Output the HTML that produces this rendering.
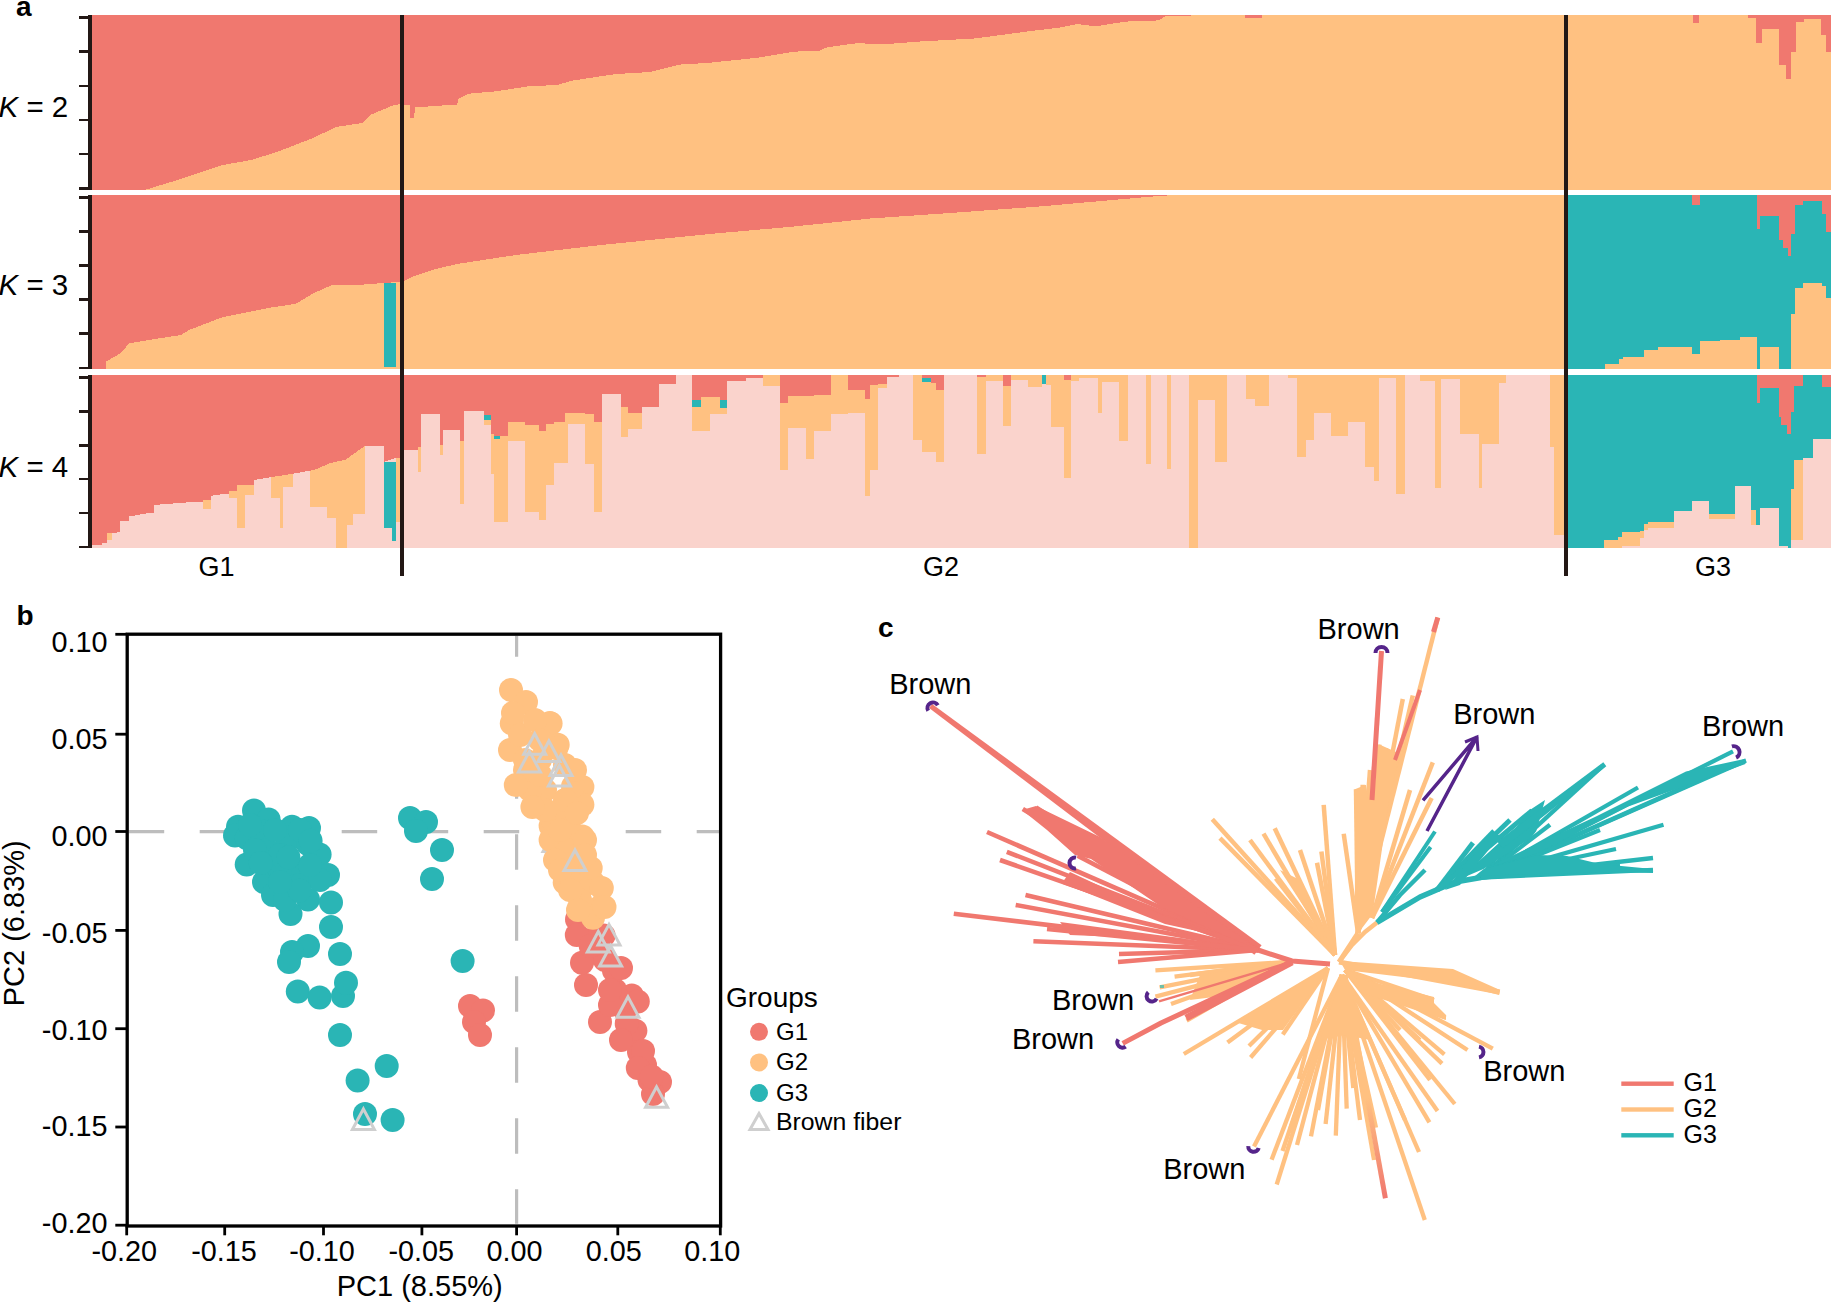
<!DOCTYPE html>
<html><head><meta charset="utf-8"><style>
html,body{margin:0;padding:0;background:#fff;width:1831px;height:1302px;overflow:hidden;}
svg{display:block;}
</style></head><body>
<svg width="1831" height="1302" viewBox="0 0 1831 1302">
<rect width="1831" height="1302" fill="#fff"/>
<g shape-rendering="crispEdges">
<rect x="90.0" y="15.3" width="1741.0" height="174.3" fill="#FFC181"/>
<polygon points="90.0,15.3 90.0,189.6 146.0,189.6 171.0,182.0 188.0,176.6 223.0,165.0 251.0,160.0 277.0,152.0 314.0,137.6 336.0,127.0 362.0,123.0 370.0,115.0 394.0,105.0 402.0,104.0 404.0,105.0 410.0,105.0 410.0,118.0 414.0,118.0 415.0,107.4 457.0,104.5 458.5,99.0 469.0,93.7 496.0,91.3 532.0,85.8 556.0,85.3 573.0,80.5 616.0,74.0 650.0,72.0 681.0,64.4 707.0,63.0 758.0,57.7 794.0,51.7 820.0,50.5 827.0,47.3 856.0,43.3 887.0,44.0 923.0,41.3 974.0,38.5 1003.0,34.8 1029.0,31.2 1060.0,27.6 1077.0,24.0 1096.0,26.4 1125.0,21.6 1159.0,20.4 1166.0,15.6 1245.0,15.3 1245.0,15.3" fill="#F0786F"/>
<rect x="1245.0" y="15.3" width="17.0" height="2.7" fill="#F0786F"/>
<rect x="1693.0" y="15.3" width="6.0" height="7.7" fill="#F0786F"/>
<rect x="1748.0" y="15.3" width="8.0" height="2.7" fill="#F0786F"/>
<rect x="1756.0" y="15.3" width="5.6" height="27.7" fill="#F0786F"/>
<rect x="1761.6" y="15.3" width="17.4" height="13.3" fill="#F0786F"/>
<rect x="1779.0" y="15.3" width="7.0" height="49.7" fill="#F0786F"/>
<rect x="1786.0" y="15.3" width="5.0" height="63.7" fill="#F0786F"/>
<rect x="1791.0" y="15.3" width="5.0" height="36.7" fill="#F0786F"/>
<rect x="1796.0" y="15.3" width="8.0" height="6.7" fill="#F0786F"/>
<rect x="1804.0" y="15.3" width="17.0" height="3.7" fill="#F0786F"/>
<rect x="1821.0" y="15.3" width="5.0" height="19.7" fill="#F0786F"/>
<rect x="1826.0" y="15.3" width="5.0" height="36.7" fill="#F0786F"/>
<rect x="90.0" y="195.1" width="1473.6" height="174.0" fill="#FFC181"/>
<rect x="1567.6" y="195.1" width="263.4" height="174.0" fill="#2AB5B5"/>
<polygon points="90.0,195.1 90.0,369.1 106.4,369.1 106.4,361.4 121.0,353.0 129.0,343.4 150.0,339.8 181.0,335.0 189.0,330.0 223.0,317.0 272.0,307.4 296.0,303.8 314.0,293.0 332.0,285.0 363.6,284.5 384.0,283.0 397.0,282.0 402.0,282.0 404.0,281.0 414.0,276.0 436.0,269.0 457.0,264.0 496.0,258.0 520.0,254.5 601.0,245.0 709.5,234.0 789.0,227.0 870.5,218.5 950.0,213.0 1041.0,206.4 1108.0,200.4 1163.5,195.6 1180.0,195.1 1180.0,195.1" fill="#F0786F"/>
<rect x="384.0" y="283.0" width="12.0" height="84.0" fill="#2AB5B5"/>
<rect x="1605.0" y="363.6" width="14.0" height="5.5" fill="#FFC181"/>
<rect x="1619.0" y="358.8" width="4.0" height="10.3" fill="#FFC181"/>
<rect x="1623.0" y="356.7" width="21.0" height="12.4" fill="#FFC181"/>
<rect x="1644.0" y="350.0" width="14.0" height="19.1" fill="#FFC181"/>
<rect x="1658.0" y="346.6" width="34.0" height="22.5" fill="#FFC181"/>
<rect x="1692.0" y="354.0" width="8.0" height="15.1" fill="#FFC181"/>
<rect x="1700.0" y="341.3" width="20.0" height="27.8" fill="#FFC181"/>
<rect x="1720.0" y="339.5" width="19.5" height="29.6" fill="#FFC181"/>
<rect x="1739.5" y="337.0" width="17.5" height="32.1" fill="#FFC181"/>
<rect x="1760.0" y="347.0" width="19.0" height="22.1" fill="#FFC181"/>
<rect x="1791.0" y="313.5" width="4.0" height="55.6" fill="#FFC181"/>
<rect x="1795.0" y="288.0" width="8.0" height="81.1" fill="#FFC181"/>
<rect x="1803.0" y="283.3" width="19.0" height="85.8" fill="#FFC181"/>
<rect x="1822.0" y="285.7" width="4.0" height="83.4" fill="#FFC181"/>
<rect x="1826.0" y="297.6" width="5.0" height="71.5" fill="#FFC181"/>
<rect x="1692.0" y="195.1" width="8.0" height="10.3" fill="#F0786F"/>
<rect x="1757.0" y="195.1" width="3.0" height="33.4" fill="#F0786F"/>
<rect x="1760.0" y="195.1" width="19.0" height="20.9" fill="#F0786F"/>
<rect x="1779.0" y="195.1" width="4.0" height="44.5" fill="#F0786F"/>
<rect x="1783.0" y="195.1" width="5.0" height="52.9" fill="#F0786F"/>
<rect x="1788.0" y="195.1" width="3.0" height="60.9" fill="#F0786F"/>
<rect x="1791.0" y="195.1" width="4.0" height="38.9" fill="#F0786F"/>
<rect x="1795.0" y="195.1" width="8.0" height="10.3" fill="#F0786F"/>
<rect x="1803.0" y="195.1" width="19.0" height="5.6" fill="#F0786F"/>
<rect x="1822.0" y="195.1" width="4.0" height="18.9" fill="#F0786F"/>
<rect x="1826.0" y="195.1" width="5.0" height="36.5" fill="#F0786F"/>
<rect x="90.0" y="375.2" width="1741.0" height="173.0" fill="#FAD3CC"/>
<rect x="107.0" y="375.2" width="5.0" height="164.8" fill="#FFC181"/>
<rect x="203.0" y="375.2" width="7.9" height="133.3" fill="#FFC181"/>
<rect x="228.6" y="375.2" width="8.4" height="122.8" fill="#FFC181"/>
<rect x="237.0" y="375.2" width="8.0" height="152.3" fill="#FFC181"/>
<rect x="245.0" y="375.2" width="8.6" height="119.8" fill="#FFC181"/>
<rect x="271.0" y="375.2" width="8.6" height="122.8" fill="#FFC181"/>
<rect x="279.6" y="375.2" width="3.4" height="152.8" fill="#FFC181"/>
<rect x="283.0" y="375.2" width="9.6" height="111.8" fill="#FFC181"/>
<rect x="310.0" y="375.2" width="17.0" height="131.8" fill="#FFC181"/>
<rect x="327.0" y="375.2" width="9.0" height="142.8" fill="#FFC181"/>
<rect x="336.0" y="375.2" width="11.0" height="173.0" fill="#FFC181"/>
<rect x="347.0" y="375.2" width="6.0" height="149.8" fill="#FFC181"/>
<rect x="353.0" y="375.2" width="12.0" height="138.4" fill="#FFC181"/>
<rect x="395.7" y="375.2" width="6.3" height="146.8" fill="#FFC181"/>
<rect x="383.6" y="461.6" width="8.4" height="65.9" fill="#2AB5B5"/>
<rect x="392.0" y="461.6" width="3.7" height="78.9" fill="#2AB5B5"/>
<polygon points="90.0,375.2 90.0,548.2 92.4,548.2 92.4,544.6 101.7,544.6 101.7,542.6 107.0,542.6 107.0,533.0 120.4,532.3 120.4,521.0 129.0,521.0 129.0,516.5 149.0,513.0 154.3,513.0 154.3,505.0 165.6,504.0 189.2,502.3 203.0,502.3 203.0,499.8 210.9,499.8 210.9,495.9 223.6,494.0 228.6,494.0 228.6,491.0 237.0,491.0 237.0,485.0 253.6,485.0 253.6,480.0 293.6,473.6 314.0,470.0 330.7,463.0 345.6,459.7 365.0,445.8 383.6,445.8 384.5,461.6 395.7,458.0 402.0,458.0 402.0,375.2" fill="#F0786F"/>
<rect x="404.0" y="375.2" width="14.0" height="75.0" fill="#FFC181"/>
<rect x="404.0" y="375.2" width="14.0" height="75.0" fill="#F0786F"/>
<rect x="418.0" y="375.2" width="3.0" height="97.1" fill="#FFC181"/>
<rect x="418.0" y="375.2" width="3.0" height="71.8" fill="#F0786F"/>
<rect x="421.0" y="375.2" width="19.0" height="38.8" fill="#FFC181"/>
<rect x="421.0" y="375.2" width="19.0" height="38.8" fill="#F0786F"/>
<rect x="440.0" y="375.2" width="3.0" height="79.8" fill="#FFC181"/>
<rect x="440.0" y="375.2" width="3.0" height="69.8" fill="#F0786F"/>
<rect x="443.0" y="375.2" width="17.0" height="54.8" fill="#FFC181"/>
<rect x="443.0" y="375.2" width="17.0" height="54.8" fill="#F0786F"/>
<rect x="460.0" y="375.2" width="4.0" height="128.8" fill="#FFC181"/>
<rect x="460.0" y="375.2" width="4.0" height="65.5" fill="#F0786F"/>
<rect x="464.0" y="375.2" width="19.5" height="35.8" fill="#FFC181"/>
<rect x="464.0" y="375.2" width="19.5" height="35.8" fill="#F0786F"/>
<rect x="483.5" y="375.2" width="7.5" height="49.8" fill="#FFC181"/>
<rect x="483.5" y="375.2" width="7.5" height="39.8" fill="#F0786F"/>
<rect x="491.0" y="375.2" width="3.0" height="98.8" fill="#FFC181"/>
<rect x="491.0" y="375.2" width="3.0" height="58.8" fill="#F0786F"/>
<rect x="494.0" y="375.2" width="14.0" height="146.8" fill="#FFC181"/>
<rect x="494.0" y="375.2" width="14.0" height="60.3" fill="#F0786F"/>
<rect x="508.0" y="375.2" width="17.0" height="65.8" fill="#FFC181"/>
<rect x="508.0" y="375.2" width="17.0" height="46.8" fill="#F0786F"/>
<rect x="525.0" y="375.2" width="14.0" height="136.4" fill="#FFC181"/>
<rect x="525.0" y="375.2" width="14.0" height="49.8" fill="#F0786F"/>
<rect x="539.0" y="375.2" width="7.0" height="144.8" fill="#FFC181"/>
<rect x="539.0" y="375.2" width="7.0" height="55.3" fill="#F0786F"/>
<rect x="546.0" y="375.2" width="8.0" height="109.4" fill="#FFC181"/>
<rect x="546.0" y="375.2" width="8.0" height="48.8" fill="#F0786F"/>
<rect x="554.0" y="375.2" width="11.0" height="87.8" fill="#FFC181"/>
<rect x="554.0" y="375.2" width="11.0" height="46.3" fill="#F0786F"/>
<rect x="565.0" y="375.2" width="3.0" height="87.8" fill="#FFC181"/>
<rect x="565.0" y="375.2" width="3.0" height="37.3" fill="#F0786F"/>
<rect x="568.0" y="375.2" width="17.0" height="48.8" fill="#FFC181"/>
<rect x="568.0" y="375.2" width="17.0" height="37.3" fill="#F0786F"/>
<rect x="585.0" y="375.2" width="9.0" height="88.8" fill="#FFC181"/>
<rect x="585.0" y="375.2" width="9.0" height="38.8" fill="#F0786F"/>
<rect x="594.0" y="375.2" width="7.5" height="136.4" fill="#FFC181"/>
<rect x="594.0" y="375.2" width="7.5" height="46.3" fill="#F0786F"/>
<rect x="601.5" y="375.2" width="19.5" height="18.8" fill="#FFC181"/>
<rect x="601.5" y="375.2" width="19.5" height="18.8" fill="#F0786F"/>
<rect x="621.0" y="375.2" width="7.0" height="61.8" fill="#FFC181"/>
<rect x="621.0" y="375.2" width="7.0" height="31.8" fill="#F0786F"/>
<rect x="628.0" y="375.2" width="13.6" height="53.8" fill="#FFC181"/>
<rect x="628.0" y="375.2" width="13.6" height="37.3" fill="#F0786F"/>
<rect x="641.6" y="375.2" width="17.4" height="31.8" fill="#FFC181"/>
<rect x="641.6" y="375.2" width="17.4" height="31.8" fill="#F0786F"/>
<rect x="659.0" y="375.2" width="17.0" height="8.8" fill="#FFC181"/>
<rect x="659.0" y="375.2" width="17.0" height="8.8" fill="#F0786F"/>
<rect x="692.4" y="375.2" width="8.2" height="55.8" fill="#FFC181"/>
<rect x="692.4" y="375.2" width="8.2" height="24.8" fill="#F0786F"/>
<rect x="700.6" y="375.2" width="9.1" height="55.8" fill="#FFC181"/>
<rect x="700.6" y="375.2" width="9.1" height="21.8" fill="#F0786F"/>
<rect x="709.7" y="375.2" width="9.8" height="38.8" fill="#FFC181"/>
<rect x="709.7" y="375.2" width="9.8" height="21.8" fill="#F0786F"/>
<rect x="719.5" y="375.2" width="7.5" height="38.8" fill="#FFC181"/>
<rect x="719.5" y="375.2" width="7.5" height="24.8" fill="#F0786F"/>
<rect x="727.0" y="375.2" width="18.7" height="5.4" fill="#FFC181"/>
<rect x="727.0" y="375.2" width="18.7" height="5.4" fill="#F0786F"/>
<rect x="745.7" y="375.2" width="17.3" height="2.8" fill="#FFC181"/>
<rect x="745.7" y="375.2" width="17.3" height="2.8" fill="#F0786F"/>
<rect x="763.0" y="375.2" width="17.0" height="10.8" fill="#FFC181"/>
<rect x="780.0" y="375.2" width="8.0" height="94.8" fill="#FFC181"/>
<rect x="780.0" y="375.2" width="8.0" height="27.5" fill="#F0786F"/>
<rect x="788.0" y="375.2" width="17.5" height="52.8" fill="#FFC181"/>
<rect x="788.0" y="375.2" width="17.5" height="20.8" fill="#F0786F"/>
<rect x="805.5" y="375.2" width="8.2" height="83.8" fill="#FFC181"/>
<rect x="805.5" y="375.2" width="8.2" height="20.8" fill="#F0786F"/>
<rect x="813.7" y="375.2" width="17.3" height="55.3" fill="#FFC181"/>
<rect x="813.7" y="375.2" width="17.3" height="19.3" fill="#F0786F"/>
<rect x="831.0" y="375.2" width="17.0" height="38.8" fill="#FFC181"/>
<rect x="848.0" y="375.2" width="17.0" height="37.3" fill="#FFC181"/>
<rect x="848.0" y="375.2" width="17.0" height="14.8" fill="#F0786F"/>
<rect x="865.0" y="375.2" width="5.0" height="120.8" fill="#FFC181"/>
<rect x="865.0" y="375.2" width="5.0" height="23.8" fill="#F0786F"/>
<rect x="870.0" y="375.2" width="8.0" height="94.8" fill="#FFC181"/>
<rect x="870.0" y="375.2" width="8.0" height="9.5" fill="#F0786F"/>
<rect x="878.0" y="375.2" width="8.6" height="12.8" fill="#FFC181"/>
<rect x="878.0" y="375.2" width="8.6" height="8.8" fill="#F0786F"/>
<rect x="886.6" y="375.2" width="12.4" height="1.3" fill="#FFC181"/>
<rect x="886.6" y="375.2" width="12.4" height="1.3" fill="#F0786F"/>
<rect x="913.0" y="375.2" width="9.0" height="64.4" fill="#FFC181"/>
<rect x="922.0" y="375.2" width="9.0" height="76.8" fill="#FFC181"/>
<rect x="922.0" y="375.2" width="9.0" height="2.8" fill="#F0786F"/>
<rect x="931.0" y="375.2" width="5.0" height="76.8" fill="#FFC181"/>
<rect x="931.0" y="375.2" width="5.0" height="7.8" fill="#F0786F"/>
<rect x="936.0" y="375.2" width="8.0" height="86.5" fill="#FFC181"/>
<rect x="936.0" y="375.2" width="8.0" height="14.8" fill="#F0786F"/>
<rect x="976.7" y="375.2" width="9.1" height="78.3" fill="#FFC181"/>
<rect x="976.7" y="375.2" width="9.1" height="1.3" fill="#F0786F"/>
<rect x="985.8" y="375.2" width="17.2" height="6.2" fill="#FFC181"/>
<rect x="1003.0" y="375.2" width="8.0" height="50.4" fill="#FFC181"/>
<rect x="1003.0" y="375.2" width="8.0" height="10.3" fill="#F0786F"/>
<rect x="1011.0" y="375.2" width="17.4" height="4.8" fill="#FFC181"/>
<rect x="1028.4" y="375.2" width="13.1" height="11.8" fill="#FFC181"/>
<rect x="1041.5" y="375.2" width="4.1" height="8.8" fill="#FFC181"/>
<rect x="1045.6" y="375.2" width="5.4" height="9.5" fill="#FFC181"/>
<rect x="1051.0" y="375.2" width="13.0" height="51.8" fill="#FFC181"/>
<rect x="1064.0" y="375.2" width="7.0" height="102.8" fill="#FFC181"/>
<rect x="1064.0" y="375.2" width="7.0" height="4.8" fill="#F0786F"/>
<rect x="1071.0" y="375.2" width="8.0" height="6.2" fill="#FFC181"/>
<rect x="1079.0" y="375.2" width="19.0" height="2.8" fill="#FFC181"/>
<rect x="1098.0" y="375.2" width="4.0" height="37.3" fill="#FFC181"/>
<rect x="1102.0" y="375.2" width="17.0" height="6.8" fill="#FFC181"/>
<rect x="1119.0" y="375.2" width="8.5" height="65.8" fill="#FFC181"/>
<rect x="1146.0" y="375.2" width="4.5" height="88.8" fill="#FFC181"/>
<rect x="1167.0" y="375.2" width="4.0" height="93.8" fill="#FFC181"/>
<rect x="1189.0" y="375.2" width="9.0" height="173.0" fill="#FFC181"/>
<rect x="1198.0" y="375.2" width="17.0" height="24.8" fill="#FFC181"/>
<rect x="1215.0" y="375.2" width="11.7" height="86.5" fill="#FFC181"/>
<rect x="1245.5" y="375.2" width="9.0" height="23.4" fill="#FFC181"/>
<rect x="1254.5" y="375.2" width="14.5" height="30.8" fill="#FFC181"/>
<rect x="1288.0" y="375.2" width="9.0" height="2.8" fill="#FFC181"/>
<rect x="1297.0" y="375.2" width="9.0" height="81.6" fill="#FFC181"/>
<rect x="1306.0" y="375.2" width="8.0" height="65.2" fill="#FFC181"/>
<rect x="1314.0" y="375.2" width="17.0" height="37.8" fill="#FFC181"/>
<rect x="1331.0" y="375.2" width="17.0" height="60.8" fill="#FFC181"/>
<rect x="1348.0" y="375.2" width="17.0" height="46.8" fill="#FFC181"/>
<rect x="1365.0" y="375.2" width="9.0" height="91.8" fill="#FFC181"/>
<rect x="1374.0" y="375.2" width="5.0" height="105.8" fill="#FFC181"/>
<rect x="1379.0" y="375.2" width="16.5" height="2.8" fill="#FFC181"/>
<rect x="1395.5" y="375.2" width="9.0" height="119.2" fill="#FFC181"/>
<rect x="1420.0" y="375.2" width="15.0" height="6.2" fill="#FFC181"/>
<rect x="1435.0" y="375.2" width="6.0" height="112.8" fill="#FFC181"/>
<rect x="1441.0" y="375.2" width="19.0" height="3.8" fill="#FFC181"/>
<rect x="1460.0" y="375.2" width="19.0" height="58.8" fill="#FFC181"/>
<rect x="1479.0" y="375.2" width="3.0" height="112.8" fill="#FFC181"/>
<rect x="1482.0" y="375.2" width="17.0" height="68.4" fill="#FFC181"/>
<rect x="1499.0" y="375.2" width="7.0" height="7.8" fill="#FFC181"/>
<rect x="1549.5" y="375.2" width="4.1" height="71.8" fill="#FFC181"/>
<rect x="1553.6" y="375.2" width="10.0" height="159.4" fill="#FFC181"/>
<rect x="483.5" y="415.0" width="7.5" height="5.0" fill="#2AB5B5"/>
<rect x="494.0" y="435.5" width="6.0" height="3.5" fill="#2AB5B5"/>
<rect x="692.4" y="400.0" width="8.2" height="7.0" fill="#2AB5B5"/>
<rect x="719.5" y="400.0" width="7.5" height="8.0" fill="#2AB5B5"/>
<rect x="922.0" y="378.0" width="9.0" height="4.0" fill="#2AB5B5"/>
<rect x="1041.5" y="375.2" width="4.1" height="8.8" fill="#2AB5B5"/>
<rect x="1567.6" y="375.2" width="263.4" height="173.0" fill="#2AB5B5"/>
<rect x="1604.0" y="540.4" width="14.0" height="7.8" fill="#FFC181"/>
<rect x="1618.0" y="537.0" width="3.5" height="11.2" fill="#FFC181"/>
<rect x="1621.5" y="531.8" width="18.5" height="16.4" fill="#FFC181"/>
<rect x="1621.5" y="546.0" width="18.5" height="2.2" fill="#FAD3CC"/>
<rect x="1640.0" y="531.0" width="4.0" height="17.2" fill="#FFC181"/>
<rect x="1640.0" y="538.0" width="4.0" height="10.2" fill="#FAD3CC"/>
<rect x="1644.0" y="524.0" width="4.0" height="24.2" fill="#FFC181"/>
<rect x="1644.0" y="530.0" width="4.0" height="18.2" fill="#FAD3CC"/>
<rect x="1648.0" y="522.0" width="26.0" height="26.2" fill="#FFC181"/>
<rect x="1648.0" y="527.5" width="26.0" height="20.7" fill="#FAD3CC"/>
<rect x="1674.0" y="511.0" width="18.0" height="37.2" fill="#FFC181"/>
<rect x="1674.0" y="511.0" width="18.0" height="37.2" fill="#FAD3CC"/>
<rect x="1692.0" y="500.7" width="17.0" height="47.5" fill="#FFC181"/>
<rect x="1692.0" y="500.7" width="17.0" height="47.5" fill="#FAD3CC"/>
<rect x="1709.0" y="514.0" width="26.0" height="34.2" fill="#FFC181"/>
<rect x="1709.0" y="519.0" width="26.0" height="29.2" fill="#FAD3CC"/>
<rect x="1735.0" y="486.0" width="16.0" height="62.2" fill="#FFC181"/>
<rect x="1735.0" y="486.0" width="16.0" height="62.2" fill="#FAD3CC"/>
<rect x="1751.0" y="510.0" width="5.0" height="38.2" fill="#FFC181"/>
<rect x="1751.0" y="525.0" width="5.0" height="23.2" fill="#FAD3CC"/>
<rect x="1756.0" y="525.0" width="4.0" height="23.2" fill="#FFC181"/>
<rect x="1756.0" y="525.0" width="4.0" height="23.2" fill="#FAD3CC"/>
<rect x="1760.0" y="508.4" width="19.0" height="39.8" fill="#FFC181"/>
<rect x="1760.0" y="508.4" width="19.0" height="39.8" fill="#FAD3CC"/>
<rect x="1779.0" y="546.0" width="8.5" height="2.2" fill="#FFC181"/>
<rect x="1779.0" y="546.0" width="8.5" height="2.2" fill="#FAD3CC"/>
<rect x="1791.0" y="488.6" width="3.0" height="59.6" fill="#FFC181"/>
<rect x="1791.0" y="540.0" width="3.0" height="8.2" fill="#FAD3CC"/>
<rect x="1794.0" y="460.0" width="9.0" height="88.2" fill="#FFC181"/>
<rect x="1794.0" y="540.0" width="9.0" height="8.2" fill="#FAD3CC"/>
<rect x="1803.0" y="457.5" width="9.5" height="90.7" fill="#FFC181"/>
<rect x="1803.0" y="457.5" width="9.5" height="90.7" fill="#FAD3CC"/>
<rect x="1812.5" y="439.3" width="18.5" height="108.9" fill="#FFC181"/>
<rect x="1812.5" y="439.3" width="18.5" height="108.9" fill="#FAD3CC"/>
<rect x="1757.0" y="375.2" width="3.0" height="27.8" fill="#F0786F"/>
<rect x="1760.0" y="375.2" width="19.0" height="13.1" fill="#F0786F"/>
<rect x="1779.0" y="375.2" width="2.4" height="41.8" fill="#F0786F"/>
<rect x="1781.4" y="375.2" width="5.2" height="49.4" fill="#F0786F"/>
<rect x="1786.6" y="375.2" width="4.4" height="58.8" fill="#F0786F"/>
<rect x="1791.0" y="375.2" width="3.0" height="36.5" fill="#F0786F"/>
<rect x="1794.0" y="375.2" width="9.0" height="10.5" fill="#F0786F"/>
<rect x="1822.0" y="375.2" width="9.0" height="11.4" fill="#F0786F"/>
<rect x="88.2" y="15.3" width="3.7" height="174.3" fill="#231815"/>
<rect x="79.2" y="16.2" width="9.8" height="2.6" fill="#231815"/>
<rect x="79.2" y="50.4" width="9.8" height="2.6" fill="#231815"/>
<rect x="79.2" y="84.5" width="9.8" height="2.6" fill="#231815"/>
<rect x="79.2" y="118.7" width="9.8" height="2.6" fill="#231815"/>
<rect x="79.2" y="152.8" width="9.8" height="2.6" fill="#231815"/>
<rect x="79.2" y="187.0" width="9.8" height="2.6" fill="#231815"/>
<rect x="88.2" y="195.1" width="3.7" height="174.0" fill="#231815"/>
<rect x="79.2" y="196.0" width="9.8" height="2.6" fill="#231815"/>
<rect x="79.2" y="230.1" width="9.8" height="2.6" fill="#231815"/>
<rect x="79.2" y="264.2" width="9.8" height="2.6" fill="#231815"/>
<rect x="79.2" y="298.3" width="9.8" height="2.6" fill="#231815"/>
<rect x="79.2" y="332.4" width="9.8" height="2.6" fill="#231815"/>
<rect x="79.2" y="366.5" width="9.8" height="2.6" fill="#231815"/>
<rect x="88.2" y="375.2" width="3.7" height="173.0" fill="#231815"/>
<rect x="79.2" y="376.1" width="9.8" height="2.6" fill="#231815"/>
<rect x="79.2" y="410.0" width="9.8" height="2.6" fill="#231815"/>
<rect x="79.2" y="443.9" width="9.8" height="2.6" fill="#231815"/>
<rect x="79.2" y="477.8" width="9.8" height="2.6" fill="#231815"/>
<rect x="79.2" y="511.7" width="9.8" height="2.6" fill="#231815"/>
<rect x="79.2" y="545.6" width="9.8" height="2.6" fill="#231815"/>
<rect x="399.7" y="15.3" width="4.3" height="560.2" fill="#231815"/>
<rect x="1563.6" y="15.3" width="4.0" height="560.2" fill="#231815"/>
</g>

<text x="16" y="15.8" font-family="Liberation Sans, sans-serif" font-size="28" font-weight="bold">a</text>
<text x="16.5" y="625" font-family="Liberation Sans, sans-serif" font-size="28" font-weight="bold">b</text>
<text x="878" y="637" font-family="Liberation Sans, sans-serif" font-size="28" font-weight="bold">c</text>
<text x="-1.5" y="116.6" font-family="Liberation Sans, sans-serif" font-size="29.5"><tspan font-style="italic">K</tspan> = 2</text>
<text x="-1.5" y="295.2" font-family="Liberation Sans, sans-serif" font-size="29.5"><tspan font-style="italic">K</tspan> = 3</text>
<text x="-1.5" y="476.7" font-family="Liberation Sans, sans-serif" font-size="29.5"><tspan font-style="italic">K</tspan> = 4</text>
<text x="216.5" y="576.4" font-family="Liberation Sans, sans-serif" font-size="27" text-anchor="middle">G1</text>
<text x="941" y="576.4" font-family="Liberation Sans, sans-serif" font-size="27" text-anchor="middle">G2</text>
<text x="1713" y="576.4" font-family="Liberation Sans, sans-serif" font-size="27" text-anchor="middle">G3</text>

<line x1="128.7" y1="831.6" x2="719" y2="831.6" stroke="#BDBDBD" stroke-width="3.2" stroke-dasharray="35.5 35.5"/>
<line x1="516.6" y1="635.8" x2="516.6" y2="1223.8" stroke="#BDBDBD" stroke-width="3.2" stroke-dasharray="21 35.5 35.5 35.5 35.5 35.5 35.5 35.5 35.5 35.5 35.5 35.5 35.5 35.5 35.5 35.5 35.5"/>
<polygon points="554.0,831.0 543.0,851.5 565.0,851.5" fill="none" stroke="#CFCFCF" stroke-width="3" stroke-linejoin="miter"/>
<circle cx="254" cy="810.6" r="12" fill="#2AB5B5"/>
<circle cx="268.6" cy="819.4" r="12" fill="#2AB5B5"/>
<circle cx="238" cy="826.7" r="12" fill="#2AB5B5"/>
<circle cx="235" cy="835.4" r="12" fill="#2AB5B5"/>
<circle cx="246.7" cy="838" r="12" fill="#2AB5B5"/>
<circle cx="261" cy="831" r="12" fill="#2AB5B5"/>
<circle cx="292" cy="826.7" r="12" fill="#2AB5B5"/>
<circle cx="309" cy="828" r="12" fill="#2AB5B5"/>
<circle cx="287.5" cy="841" r="12" fill="#2AB5B5"/>
<circle cx="308" cy="844" r="12" fill="#2AB5B5"/>
<circle cx="319.6" cy="854.4" r="12" fill="#2AB5B5"/>
<circle cx="246.7" cy="864.6" r="12" fill="#2AB5B5"/>
<circle cx="267" cy="850" r="12" fill="#2AB5B5"/>
<circle cx="287.5" cy="864.6" r="12" fill="#2AB5B5"/>
<circle cx="328" cy="875" r="12" fill="#2AB5B5"/>
<circle cx="264" cy="882" r="12" fill="#2AB5B5"/>
<circle cx="273" cy="895" r="12" fill="#2AB5B5"/>
<circle cx="302" cy="876" r="12" fill="#2AB5B5"/>
<circle cx="308" cy="899.6" r="12" fill="#2AB5B5"/>
<circle cx="290.5" cy="914" r="12" fill="#2AB5B5"/>
<circle cx="331" cy="902.6" r="12" fill="#2AB5B5"/>
<circle cx="331" cy="927" r="12" fill="#2AB5B5"/>
<circle cx="308" cy="946" r="12" fill="#2AB5B5"/>
<circle cx="292" cy="952" r="12" fill="#2AB5B5"/>
<circle cx="289" cy="962" r="12" fill="#2AB5B5"/>
<circle cx="340" cy="954" r="12" fill="#2AB5B5"/>
<circle cx="297.8" cy="991.6" r="12" fill="#2AB5B5"/>
<circle cx="319.6" cy="997.4" r="12" fill="#2AB5B5"/>
<circle cx="343" cy="996" r="12" fill="#2AB5B5"/>
<circle cx="346" cy="982.8" r="12" fill="#2AB5B5"/>
<circle cx="340" cy="1035" r="12" fill="#2AB5B5"/>
<circle cx="386.7" cy="1066" r="12" fill="#2AB5B5"/>
<circle cx="357.6" cy="1080.6" r="12" fill="#2AB5B5"/>
<circle cx="365" cy="1114" r="12" fill="#2AB5B5"/>
<circle cx="392.6" cy="1120" r="12" fill="#2AB5B5"/>
<circle cx="255" cy="850" r="12" fill="#2AB5B5"/>
<circle cx="280" cy="870" r="12" fill="#2AB5B5"/>
<circle cx="300" cy="885" r="12" fill="#2AB5B5"/>
<circle cx="320" cy="880" r="12" fill="#2AB5B5"/>
<circle cx="275" cy="830" r="12" fill="#2AB5B5"/>
<circle cx="300" cy="830" r="12" fill="#2AB5B5"/>
<circle cx="250" cy="825" r="12" fill="#2AB5B5"/>
<circle cx="280" cy="855" r="12" fill="#2AB5B5"/>
<circle cx="310" cy="865" r="12" fill="#2AB5B5"/>
<circle cx="285" cy="900" r="12" fill="#2AB5B5"/>
<circle cx="288.4" cy="857.3" r="12" fill="#2AB5B5"/>
<circle cx="310.6" cy="840.7" r="12" fill="#2AB5B5"/>
<circle cx="260.7" cy="862.9" r="12" fill="#2AB5B5"/>
<circle cx="299.5" cy="890.6" r="12" fill="#2AB5B5"/>
<circle cx="280" cy="882" r="12" fill="#2AB5B5"/>
<circle cx="410" cy="818" r="12" fill="#2AB5B5"/>
<circle cx="426" cy="822" r="12" fill="#2AB5B5"/>
<circle cx="416" cy="831" r="12" fill="#2AB5B5"/>
<circle cx="442" cy="850" r="12" fill="#2AB5B5"/>
<circle cx="432" cy="879" r="12" fill="#2AB5B5"/>
<circle cx="462.6" cy="961" r="12" fill="#2AB5B5"/>
<circle cx="470" cy="1006" r="12" fill="#F0786F"/>
<circle cx="483" cy="1010.5" r="12" fill="#F0786F"/>
<circle cx="474" cy="1022" r="12" fill="#F0786F"/>
<circle cx="480" cy="1035" r="12" fill="#F0786F"/>
<circle cx="577" cy="919.5" r="12" fill="#F0786F"/>
<circle cx="603.6" cy="935.4" r="12" fill="#F0786F"/>
<circle cx="596.5" cy="953" r="12" fill="#F0786F"/>
<circle cx="586" cy="985" r="12" fill="#F0786F"/>
<circle cx="614" cy="970.7" r="12" fill="#F0786F"/>
<circle cx="631.8" cy="995.5" r="12" fill="#F0786F"/>
<circle cx="600" cy="1022" r="12" fill="#F0786F"/>
<circle cx="635.4" cy="1030.8" r="12" fill="#F0786F"/>
<circle cx="639" cy="1052" r="12" fill="#F0786F"/>
<circle cx="649.5" cy="1080" r="12" fill="#F0786F"/>
<circle cx="660" cy="1082" r="12" fill="#F0786F"/>
<circle cx="653" cy="1094" r="12" fill="#F0786F"/>
<circle cx="605" cy="960" r="12" fill="#F0786F"/>
<circle cx="615" cy="990" r="12" fill="#F0786F"/>
<circle cx="625" cy="1010" r="12" fill="#F0786F"/>
<circle cx="645" cy="1065" r="12" fill="#F0786F"/>
<circle cx="620" cy="1000" r="12" fill="#F0786F"/>
<circle cx="590" cy="940" r="12" fill="#F0786F"/>
<circle cx="610" cy="1005" r="12" fill="#F0786F"/>
<circle cx="582" cy="962.7" r="12" fill="#F0786F"/>
<circle cx="621" cy="968" r="12" fill="#F0786F"/>
<circle cx="610" cy="990" r="12" fill="#F0786F"/>
<circle cx="637.8" cy="1001.5" r="12" fill="#F0786F"/>
<circle cx="626.7" cy="1023.7" r="12" fill="#F0786F"/>
<circle cx="621" cy="1040" r="12" fill="#F0786F"/>
<circle cx="643" cy="1051" r="12" fill="#F0786F"/>
<circle cx="637.8" cy="1068" r="12" fill="#F0786F"/>
<circle cx="651.7" cy="1076.4" r="12" fill="#F0786F"/>
<circle cx="576.8" cy="935" r="12" fill="#F0786F"/>
<circle cx="590.7" cy="946" r="12" fill="#F0786F"/>
<circle cx="511" cy="690" r="12" fill="#FFC181"/>
<circle cx="526" cy="702" r="12" fill="#FFC181"/>
<circle cx="550.6" cy="723.6" r="12" fill="#FFC181"/>
<circle cx="511.8" cy="723.6" r="12" fill="#FFC181"/>
<circle cx="510" cy="750" r="12" fill="#FFC181"/>
<circle cx="557.7" cy="744.7" r="12" fill="#FFC181"/>
<circle cx="526" cy="780" r="12" fill="#FFC181"/>
<circle cx="536.5" cy="801" r="12" fill="#FFC181"/>
<circle cx="582.4" cy="787" r="12" fill="#FFC181"/>
<circle cx="582.4" cy="804.8" r="12" fill="#FFC181"/>
<circle cx="550.6" cy="826" r="12" fill="#FFC181"/>
<circle cx="582.4" cy="836.6" r="12" fill="#FFC181"/>
<circle cx="550.6" cy="840" r="12" fill="#FFC181"/>
<circle cx="561" cy="857.7" r="12" fill="#FFC181"/>
<circle cx="564.7" cy="882.5" r="12" fill="#FFC181"/>
<circle cx="593" cy="882.5" r="12" fill="#FFC181"/>
<circle cx="600" cy="907" r="12" fill="#FFC181"/>
<circle cx="593" cy="917.8" r="12" fill="#FFC181"/>
<circle cx="513" cy="713" r="12" fill="#FFC181"/>
<circle cx="533" cy="763" r="12" fill="#FFC181"/>
<circle cx="549.8" cy="723" r="12" fill="#FFC181"/>
<circle cx="556.4" cy="748" r="12" fill="#FFC181"/>
<circle cx="540" cy="803" r="12" fill="#FFC181"/>
<circle cx="573" cy="786.6" r="12" fill="#FFC181"/>
<circle cx="553" cy="820" r="12" fill="#FFC181"/>
<circle cx="576.4" cy="836.6" r="12" fill="#FFC181"/>
<circle cx="579.7" cy="853" r="12" fill="#FFC181"/>
<circle cx="566.4" cy="880" r="12" fill="#FFC181"/>
<circle cx="589.7" cy="883" r="12" fill="#FFC181"/>
<circle cx="520" cy="735" r="12" fill="#FFC181"/>
<circle cx="540" cy="760" r="12" fill="#FFC181"/>
<circle cx="525" cy="760" r="12" fill="#FFC181"/>
<circle cx="545" cy="790" r="12" fill="#FFC181"/>
<circle cx="560" cy="810" r="12" fill="#FFC181"/>
<circle cx="570" cy="830" r="12" fill="#FFC181"/>
<circle cx="575" cy="870" r="12" fill="#FFC181"/>
<circle cx="580" cy="900" r="12" fill="#FFC181"/>
<circle cx="535" cy="720" r="12" fill="#FFC181"/>
<circle cx="540" cy="740" r="12" fill="#FFC181"/>
<circle cx="565" cy="800" r="12" fill="#FFC181"/>
<circle cx="568" cy="850" r="12" fill="#FFC181"/>
<circle cx="525" cy="770" r="12" fill="#FFC181"/>
<circle cx="530" cy="790" r="12" fill="#FFC181"/>
<circle cx="545" cy="810" r="12" fill="#FFC181"/>
<circle cx="560" cy="830" r="12" fill="#FFC181"/>
<circle cx="555" cy="860" r="12" fill="#FFC181"/>
<circle cx="565" cy="765" r="12" fill="#FFC181"/>
<circle cx="575" cy="770" r="12" fill="#FFC181"/>
<circle cx="540" cy="775" r="12" fill="#FFC181"/>
<circle cx="577" cy="813" r="12" fill="#FFC181"/>
<circle cx="590.7" cy="868" r="12" fill="#FFC181"/>
<circle cx="601.8" cy="888" r="12" fill="#FFC181"/>
<circle cx="515.8" cy="785" r="12" fill="#FFC181"/>
<circle cx="532.4" cy="807" r="12" fill="#FFC181"/>
<circle cx="560" cy="870" r="12" fill="#FFC181"/>
<circle cx="570" cy="890" r="12" fill="#FFC181"/>
<circle cx="578" cy="910" r="12" fill="#FFC181"/>
<circle cx="604.5" cy="907" r="12" fill="#FFC181"/>
<circle cx="585" cy="840" r="12" fill="#FFC181"/>
<circle cx="585" cy="855" r="12" fill="#FFC181"/>
<polygon points="363.4,1109.0 352.4,1129.5 374.4,1129.5" fill="none" stroke="#CFCFCF" stroke-width="3" stroke-linejoin="miter"/>
<polygon points="534.7,733.7 523.7,754.2 545.7,754.2" fill="none" stroke="#CFCFCF" stroke-width="3" stroke-linejoin="miter"/>
<polygon points="548.9,741.0 537.9,761.5 559.9,761.5" fill="none" stroke="#CFCFCF" stroke-width="3" stroke-linejoin="miter"/>
<polygon points="529.4,751.4 518.4,771.9 540.4,771.9" fill="none" stroke="#CFCFCF" stroke-width="3" stroke-linejoin="miter"/>
<polygon points="559.4,765.5 548.4,786.0 570.4,786.0" fill="none" stroke="#CFCFCF" stroke-width="3" stroke-linejoin="miter"/>
<polygon points="561.0,755.0 550.0,775.5 572.0,775.5" fill="none" stroke="#CFCFCF" stroke-width="3" stroke-linejoin="miter"/>
<polygon points="575.0,850.0 564.0,870.5 586.0,870.5" fill="none" stroke="#CFCFCF" stroke-width="3" stroke-linejoin="miter"/>
<polygon points="609.0,924.4 598.0,944.9 620.0,944.9" fill="none" stroke="#CFCFCF" stroke-width="3" stroke-linejoin="miter"/>
<polygon points="598.3,931.5 587.3,952.0 609.3,952.0" fill="none" stroke="#CFCFCF" stroke-width="3" stroke-linejoin="miter"/>
<polygon points="610.6,945.6 599.6,966.1 621.6,966.1" fill="none" stroke="#CFCFCF" stroke-width="3" stroke-linejoin="miter"/>
<polygon points="628.0,996.8 617.0,1017.3 639.0,1017.3" fill="none" stroke="#CFCFCF" stroke-width="3" stroke-linejoin="miter"/>
<polygon points="656.6,1086.8 645.6,1107.3 667.6,1107.3" fill="none" stroke="#CFCFCF" stroke-width="3" stroke-linejoin="miter"/>
<rect x="127.2" y="634.2" width="593.4" height="591.8" fill="none" stroke="#000000" stroke-width="3.3"/>
<line x1="115.3" y1="634.3" x2="127" y2="634.3" stroke="#000000" stroke-width="2.8"/>
<line x1="115.3" y1="734.2" x2="127" y2="734.2" stroke="#000000" stroke-width="2.8"/>
<line x1="115.3" y1="831.5" x2="127" y2="831.5" stroke="#000000" stroke-width="2.8"/>
<line x1="115.3" y1="930.4" x2="127" y2="930.4" stroke="#000000" stroke-width="2.8"/>
<line x1="115.3" y1="1028.7" x2="127" y2="1028.7" stroke="#000000" stroke-width="2.8"/>
<line x1="115.3" y1="1127.0" x2="127" y2="1127.0" stroke="#000000" stroke-width="2.8"/>
<line x1="115.3" y1="1225.2" x2="127" y2="1225.2" stroke="#000000" stroke-width="2.8"/>
<line x1="126.7" y1="1226" x2="126.7" y2="1235.3" stroke="#000000" stroke-width="2.8"/>
<line x1="224.7" y1="1226" x2="224.7" y2="1235.3" stroke="#000000" stroke-width="2.8"/>
<line x1="323.5" y1="1226" x2="323.5" y2="1235.3" stroke="#000000" stroke-width="2.8"/>
<line x1="421.9" y1="1226" x2="421.9" y2="1235.3" stroke="#000000" stroke-width="2.8"/>
<line x1="516.6" y1="1226" x2="516.6" y2="1235.3" stroke="#000000" stroke-width="2.8"/>
<line x1="617.8" y1="1226" x2="617.8" y2="1235.3" stroke="#000000" stroke-width="2.8"/>
<line x1="720.3" y1="1226" x2="720.3" y2="1235.3" stroke="#000000" stroke-width="2.8"/>
<text x="107.5" y="652.4" font-family="Liberation Sans, sans-serif" font-size="28.8" text-anchor="end">0.10</text>
<text x="107.5" y="749.2" font-family="Liberation Sans, sans-serif" font-size="28.8" text-anchor="end">0.05</text>
<text x="107.5" y="845.9" font-family="Liberation Sans, sans-serif" font-size="28.8" text-anchor="end">0.00</text>
<text x="107.5" y="942.7" font-family="Liberation Sans, sans-serif" font-size="28.8" text-anchor="end">-0.05</text>
<text x="107.5" y="1039.5" font-family="Liberation Sans, sans-serif" font-size="28.8" text-anchor="end">-0.10</text>
<text x="107.5" y="1136.2" font-family="Liberation Sans, sans-serif" font-size="28.8" text-anchor="end">-0.15</text>
<text x="107.5" y="1233.0" font-family="Liberation Sans, sans-serif" font-size="28.8" text-anchor="end">-0.20</text>
<text x="124.2" y="1261.3" font-family="Liberation Sans, sans-serif" font-size="28.8" text-anchor="middle">-0.20</text>
<text x="224" y="1261.3" font-family="Liberation Sans, sans-serif" font-size="28.8" text-anchor="middle">-0.15</text>
<text x="322" y="1261.3" font-family="Liberation Sans, sans-serif" font-size="28.8" text-anchor="middle">-0.10</text>
<text x="421.3" y="1261.3" font-family="Liberation Sans, sans-serif" font-size="28.8" text-anchor="middle">-0.05</text>
<text x="514.6" y="1261.3" font-family="Liberation Sans, sans-serif" font-size="28.8" text-anchor="middle">0.00</text>
<text x="613.8" y="1261.3" font-family="Liberation Sans, sans-serif" font-size="28.8" text-anchor="middle">0.05</text>
<text x="712.3" y="1261.3" font-family="Liberation Sans, sans-serif" font-size="28.8" text-anchor="middle">0.10</text>
<text x="419.7" y="1296.1" font-family="Liberation Sans, sans-serif" font-size="29" text-anchor="middle">PC1 (8.55%)</text>
<text transform="translate(23.5,923.3) rotate(-90)" font-family="Liberation Sans, sans-serif" font-size="29" text-anchor="middle">PC2 (6.83%)</text>
<text x="726" y="1007.3" font-family="Liberation Sans, sans-serif" font-size="28">Groups</text>
<circle cx="759" cy="1031.8" r="9" fill="#F0786F"/>
<text x="776" y="1039.8" font-family="Liberation Sans, sans-serif" font-size="24">G1</text>
<circle cx="759" cy="1062.4" r="9" fill="#FFC181"/>
<text x="776" y="1070.4" font-family="Liberation Sans, sans-serif" font-size="24">G2</text>
<circle cx="759" cy="1093" r="9" fill="#2AB5B5"/>
<text x="776" y="1101.0" font-family="Liberation Sans, sans-serif" font-size="24">G3</text>
<polygon points="759,1113.5 750,1129.5 768,1129.5" fill="none" stroke="#CFCFCF" stroke-width="3"/>
<text x="776" y="1129.7" font-family="Liberation Sans, sans-serif" font-size="24.8">Brown fiber</text>
<line x1="1342.0" y1="975.0" x2="1254.0" y2="1146.5" stroke="#FFC181" stroke-width="4.3"/>
<line x1="1342.0" y1="975.0" x2="1271.6" y2="1159.7" stroke="#FFC181" stroke-width="4.3"/>
<line x1="1342.0" y1="975.0" x2="1276.7" y2="1184.5" stroke="#FFC181" stroke-width="4.3"/>
<line x1="1342.0" y1="975.0" x2="1282.5" y2="1151.0" stroke="#FFC181" stroke-width="4.3"/>
<line x1="1342.0" y1="975.0" x2="1297.0" y2="1145.0" stroke="#FFC181" stroke-width="4.3"/>
<line x1="1342.0" y1="975.0" x2="1311.0" y2="1136.3" stroke="#FFC181" stroke-width="4.3"/>
<line x1="1342.0" y1="975.0" x2="1325.6" y2="1124.0" stroke="#FFC181" stroke-width="4.3"/>
<line x1="1342.0" y1="975.0" x2="1335.8" y2="1135.6" stroke="#FFC181" stroke-width="4.3"/>
<line x1="1342.0" y1="975.0" x2="1346.7" y2="1108.6" stroke="#FFC181" stroke-width="4.3"/>
<line x1="1342.0" y1="975.0" x2="1353.3" y2="1088.0" stroke="#FFC181" stroke-width="4.3"/>
<line x1="1342.0" y1="975.0" x2="1376.0" y2="1127.6" stroke="#FFC181" stroke-width="4.3"/>
<line x1="1342.0" y1="975.0" x2="1290.0" y2="1130.0" stroke="#FFC181" stroke-width="4.3"/>
<line x1="1342.0" y1="975.0" x2="1318.0" y2="1110.0" stroke="#FFC181" stroke-width="4.3"/>
<line x1="1342.0" y1="975.0" x2="1360.0" y2="1120.0" stroke="#FFC181" stroke-width="4.3"/>
<line x1="1342.0" y1="975.0" x2="1374.0" y2="1160.0" stroke="#FFC181" stroke-width="4.3"/>
<line x1="1342.0" y1="975.0" x2="1419.0" y2="1152.0" stroke="#FFC181" stroke-width="4.3"/>
<line x1="1342.0" y1="975.0" x2="1424.8" y2="1220.0" stroke="#FFC181" stroke-width="4.3"/>
<line x1="1342.0" y1="975.0" x2="1429.4" y2="1122.4" stroke="#FFC181" stroke-width="4.3"/>
<line x1="1342.0" y1="975.0" x2="1437.5" y2="1111.0" stroke="#FFC181" stroke-width="4.3"/>
<line x1="1342.0" y1="975.0" x2="1405.0" y2="1120.0" stroke="#FFC181" stroke-width="4.3"/>
<polygon points="1342.0,975.0 1320.0,1040.0 1345.0,1035.0 1370.0,1040.0" fill="#FFC181"/>
<defs><linearGradient id="gco" x1="1345" y1="975" x2="1385" y2="1198" gradientUnits="userSpaceOnUse"><stop offset="0.55" stop-color="#FFC181"/><stop offset="1" stop-color="#F0786F"/></linearGradient></defs>
<line x1="1345" y1="975" x2="1385.4" y2="1198.3" stroke="url(#gco)" stroke-width="5"/>
<line x1="1345.0" y1="970.0" x2="1434.0" y2="1000.0" stroke="#FFC181" stroke-width="4.3"/>
<line x1="1345.0" y1="970.0" x2="1445.6" y2="1017.6" stroke="#FFC181" stroke-width="4.3"/>
<line x1="1345.0" y1="970.0" x2="1492.8" y2="1048.7" stroke="#FFC181" stroke-width="4.3"/>
<line x1="1345.0" y1="970.0" x2="1467.5" y2="1050.0" stroke="#FFC181" stroke-width="4.3"/>
<line x1="1345.0" y1="970.0" x2="1444.4" y2="1054.4" stroke="#FFC181" stroke-width="4.3"/>
<line x1="1345.0" y1="970.0" x2="1442.0" y2="1063.6" stroke="#FFC181" stroke-width="4.3"/>
<line x1="1345.0" y1="970.0" x2="1454.8" y2="1104.0" stroke="#FFC181" stroke-width="4.3"/>
<line x1="1345.0" y1="970.0" x2="1420.0" y2="1040.0" stroke="#FFC181" stroke-width="4.3"/>
<line x1="1345.0" y1="970.0" x2="1430.0" y2="1080.0" stroke="#FFC181" stroke-width="4.3"/>
<line x1="1345.0" y1="970.0" x2="1400.0" y2="1030.0" stroke="#FFC181" stroke-width="4.3"/>
<line x1="1339.0" y1="962.0" x2="1499.7" y2="992.0" stroke="#FFC181" stroke-width="5"/>
<polygon points="1340.0,961.0 1453.0,969.0 1500.0,990.0 1499.0,995.0 1453.0,983.0 1345.0,970.0" fill="#FFC181"/>
<polygon points="1348.0,976.0 1434.0,997.0 1434.0,1003.0 1446.0,1015.0 1446.0,1020.0 1360.0,992.0" fill="#FFC181"/>
<line x1="1328.0" y1="968.0" x2="1183.8" y2="1054.0" stroke="#FFC181" stroke-width="4.3"/>
<line x1="1328.0" y1="968.0" x2="1227.5" y2="1042.6" stroke="#FFC181" stroke-width="4.3"/>
<line x1="1328.0" y1="968.0" x2="1249.0" y2="1046.0" stroke="#FFC181" stroke-width="4.3"/>
<line x1="1328.0" y1="968.0" x2="1250.6" y2="1057.5" stroke="#FFC181" stroke-width="4.3"/>
<line x1="1328.0" y1="968.0" x2="1282.8" y2="1034.5" stroke="#FFC181" stroke-width="4.3"/>
<line x1="1328.0" y1="968.0" x2="1298.8" y2="1079.0" stroke="#FFC181" stroke-width="4.3"/>
<polygon points="1328.0,968.0 1235.0,1022.0 1262.0,1030.0 1283.0,1030.0" fill="#FFC181"/>
<line x1="1288.0" y1="962.0" x2="1155.4" y2="970.3" stroke="#FFC181" stroke-width="4.3"/>
<line x1="1288.0" y1="962.0" x2="1174.6" y2="976.7" stroke="#FFC181" stroke-width="4.3"/>
<line x1="1288.0" y1="962.0" x2="1159.6" y2="987.3" stroke="#FFC181" stroke-width="4.3"/>
<line x1="1288.0" y1="962.0" x2="1155.4" y2="996.6" stroke="#FFC181" stroke-width="4.3"/>
<line x1="1288.0" y1="962.0" x2="1171.0" y2="1004.0" stroke="#FFC181" stroke-width="4.3"/>
<line x1="1288.0" y1="962.0" x2="1186.6" y2="1020.7" stroke="#FFC181" stroke-width="4.3"/>
<line x1="1288.0" y1="962.0" x2="1200.0" y2="990.0" stroke="#FFC181" stroke-width="4.3"/>
<line x1="1288.0" y1="962.0" x2="1220.0" y2="980.0" stroke="#FFC181" stroke-width="4.3"/>
<line x1="1288.0" y1="962.0" x2="1190.0" y2="975.0" stroke="#FFC181" stroke-width="4.3"/>
<line x1="1288.0" y1="962.0" x2="1210.0" y2="1000.0" stroke="#FFC181" stroke-width="4.3"/>
<line x1="1288.0" y1="962.0" x2="1240.0" y2="975.0" stroke="#FFC181" stroke-width="4.3"/>
<line x1="1288.0" y1="962.0" x2="1230.0" y2="995.0" stroke="#FFC181" stroke-width="4.3"/>
<polygon points="1288.0,962.0 1200.0,975.0 1190.0,1000.0 1230.0,995.0" fill="#FFC181"/>
<line x1="1288.0" y1="963.0" x2="1159.0" y2="1001.4" stroke="#F0786F" stroke-width="2.5"/>
<rect x="1160" y="985" width="4" height="3" fill="#6FBFA8"/>
<line x1="1335.0" y1="955.0" x2="1212.3" y2="819.2" stroke="#FFC181" stroke-width="4.5"/>
<line x1="1335.0" y1="955.0" x2="1220.0" y2="838.2" stroke="#FFC181" stroke-width="4.5"/>
<line x1="1335.0" y1="955.0" x2="1263.5" y2="833.7" stroke="#FFC181" stroke-width="4.5"/>
<line x1="1335.0" y1="955.0" x2="1274.7" y2="828.2" stroke="#FFC181" stroke-width="4.5"/>
<line x1="1335.0" y1="955.0" x2="1275.8" y2="878.3" stroke="#FFC181" stroke-width="4.5"/>
<line x1="1335.0" y1="955.0" x2="1323.7" y2="804.8" stroke="#FFC181" stroke-width="4.5"/>
<line x1="1335.0" y1="955.0" x2="1317.0" y2="862.7" stroke="#FFC181" stroke-width="4.5"/>
<line x1="1335.0" y1="955.0" x2="1321.4" y2="851.5" stroke="#FFC181" stroke-width="4.5"/>
<line x1="1335.0" y1="955.0" x2="1250.0" y2="840.0" stroke="#FFC181" stroke-width="4.5"/>
<line x1="1335.0" y1="955.0" x2="1300.0" y2="850.0" stroke="#FFC181" stroke-width="4.5"/>
<polygon points="1335.0,955.0 1280.0,870.0 1300.0,880.0" fill="#FFC181"/>
<line x1="1339.0" y1="962.0" x2="1358.0" y2="933.0" stroke="#FFC181" stroke-width="5"/>
<line x1="1358.0" y1="933.0" x2="1343.7" y2="833.7" stroke="#FFC181" stroke-width="4.5"/>
<line x1="1358.0" y1="933.0" x2="1356.0" y2="789.2" stroke="#FFC181" stroke-width="4.5"/>
<line x1="1358.0" y1="933.0" x2="1362.7" y2="784.7" stroke="#FFC181" stroke-width="4.5"/>
<line x1="1358.0" y1="933.0" x2="1379.4" y2="744.6" stroke="#FFC181" stroke-width="4.5"/>
<line x1="1358.0" y1="933.0" x2="1386.0" y2="748.0" stroke="#FFC181" stroke-width="4.5"/>
<line x1="1358.0" y1="933.0" x2="1402.8" y2="699.0" stroke="#FFC181" stroke-width="4.5"/>
<line x1="1358.0" y1="933.0" x2="1412.8" y2="695.6" stroke="#FFC181" stroke-width="4.5"/>
<line x1="1358.0" y1="933.0" x2="1437.8" y2="617.5" stroke="#FFC181" stroke-width="4.5"/>
<line x1="1358.0" y1="933.0" x2="1395.0" y2="760.0" stroke="#FFC181" stroke-width="4.5"/>
<line x1="1358.0" y1="933.0" x2="1370.0" y2="770.0" stroke="#FFC181" stroke-width="4.5"/>
<polygon points="1354.9,789.2 1366.0,784.7 1368.2,800.3 1379.4,744.6 1399.4,753.5 1388.3,804.8 1372.7,913.9 1359.3,931.8 1354.9,902.8" fill="#FFC181"/>
<line x1="1372.0" y1="918.0" x2="1432.8" y2="762.4" stroke="#FFC181" stroke-width="4.5"/>
<line x1="1372.0" y1="918.0" x2="1431.7" y2="798.0" stroke="#FFC181" stroke-width="4.5"/>
<line x1="1372.0" y1="918.0" x2="1410.0" y2="790.0" stroke="#FFC181" stroke-width="4.5"/>
<line x1="1372.0" y1="800.0" x2="1381.5" y2="651.0" stroke="#F0786F" stroke-width="5"/>
<line x1="1433.5" y1="632.0" x2="1437.8" y2="617.5" stroke="#F0786F" stroke-width="5"/>
<line x1="1395.0" y1="760.0" x2="1420.0" y2="690.0" stroke="#F0786F" stroke-width="4"/>
<line x1="1382.0" y1="912.0" x2="1435.0" y2="831.5" stroke="#2AB5B5" stroke-width="4"/>
<line x1="1382.0" y1="912.0" x2="1430.6" y2="847.0" stroke="#2AB5B5" stroke-width="4"/>
<polyline points="1330.0,964.0 1292.0,961.0 1258.0,950.0" fill="none" stroke="#F0786F" stroke-width="5" stroke-linejoin="round"/>
<polygon points="1261.6,945.2 932.1,704.0 929.1,708.0 1254.4,954.8" fill="#F0786F"/>
<line x1="1258.0" y1="950.0" x2="1022.8" y2="809.0" stroke="#F0786F" stroke-width="4.6"/>
<line x1="1258.0" y1="950.0" x2="1036.0" y2="807.5" stroke="#F0786F" stroke-width="4.6"/>
<line x1="1258.0" y1="950.0" x2="987.0" y2="832.0" stroke="#F0786F" stroke-width="4.6"/>
<line x1="1258.0" y1="950.0" x2="1006.8" y2="851.8" stroke="#F0786F" stroke-width="4.6"/>
<line x1="1258.0" y1="950.0" x2="1077.6" y2="855.7" stroke="#F0786F" stroke-width="4.6"/>
<line x1="1258.0" y1="950.0" x2="1064.0" y2="882.0" stroke="#F0786F" stroke-width="4.6"/>
<line x1="1258.0" y1="950.0" x2="1025.5" y2="895.0" stroke="#F0786F" stroke-width="4.6"/>
<line x1="1258.0" y1="950.0" x2="1015.7" y2="904.9" stroke="#F0786F" stroke-width="4.6"/>
<line x1="1258.0" y1="950.0" x2="953.8" y2="913.7" stroke="#F0786F" stroke-width="4.6"/>
<line x1="1258.0" y1="950.0" x2="1033.4" y2="941.2" stroke="#F0786F" stroke-width="4.6"/>
<line x1="1258.0" y1="950.0" x2="1119.0" y2="954.0" stroke="#F0786F" stroke-width="4.6"/>
<line x1="1258.0" y1="950.0" x2="1118.0" y2="962.0" stroke="#F0786F" stroke-width="4.6"/>
<line x1="1258.0" y1="950.0" x2="1000.0" y2="860.0" stroke="#F0786F" stroke-width="4.6"/>
<line x1="1258.0" y1="950.0" x2="1047.0" y2="929.0" stroke="#F0786F" stroke-width="4.6"/>
<polygon points="1100.0,837.0 1036.0,806.0 1022.0,810.0 1047.0,830.0 1075.0,855.0 1091.0,859.0 1163.0,908.0 1258.0,950.0" fill="#F0786F"/>
<polygon points="1215.0,935.0 1160.0,914.0 1070.0,872.0 1062.0,883.0 1165.0,924.0" fill="#F0786F"/>
<polygon points="1195.0,940.0 1060.0,922.0 1070.0,935.0" fill="#F0786F"/>
<polyline points="1292.0,962.0 1161.0,1023.0 1122.7,1043.4" fill="none" stroke="#F0786F" stroke-width="5" stroke-linejoin="round"/>
<line x1="1292.0" y1="962.0" x2="1186.0" y2="1018.0" stroke="#F0786F" stroke-width="7"/>
<polyline points="1339.0,962.0 1352.0,945.0 1365.0,932.0 1377.0,922.5" fill="none" stroke="#FFC181" stroke-width="4.5" stroke-linejoin="round"/>
<polyline points="1377.0,922.5 1420.0,897.0 1455.0,882.0 1481.0,877.5" fill="none" stroke="#2AB5B5" stroke-width="5.5" stroke-linejoin="round"/>
<line x1="1481.0" y1="877.5" x2="1733.0" y2="751.4" stroke="#2AB5B5" stroke-width="4.3"/>
<line x1="1481.0" y1="877.5" x2="1746.0" y2="760.5" stroke="#2AB5B5" stroke-width="4.3"/>
<line x1="1481.0" y1="877.5" x2="1638.0" y2="787.5" stroke="#2AB5B5" stroke-width="4.3"/>
<line x1="1481.0" y1="877.5" x2="1603.0" y2="765.6" stroke="#2AB5B5" stroke-width="4.3"/>
<line x1="1481.0" y1="877.5" x2="1532.0" y2="810.6" stroke="#2AB5B5" stroke-width="4.3"/>
<line x1="1481.0" y1="877.5" x2="1550.0" y2="824.8" stroke="#2AB5B5" stroke-width="4.3"/>
<line x1="1481.0" y1="877.5" x2="1663.5" y2="824.8" stroke="#2AB5B5" stroke-width="4.3"/>
<line x1="1481.0" y1="877.5" x2="1616.0" y2="849.0" stroke="#2AB5B5" stroke-width="4.3"/>
<line x1="1481.0" y1="877.5" x2="1653.0" y2="858.0" stroke="#2AB5B5" stroke-width="4.3"/>
<line x1="1481.0" y1="877.5" x2="1653.0" y2="869.8" stroke="#2AB5B5" stroke-width="4.3"/>
<line x1="1481.0" y1="877.5" x2="1700.0" y2="780.0" stroke="#2AB5B5" stroke-width="4.3"/>
<line x1="1481.0" y1="877.5" x2="1600.0" y2="830.0" stroke="#2AB5B5" stroke-width="4.3"/>
<line x1="1481.0" y1="877.5" x2="1620.0" y2="865.0" stroke="#2AB5B5" stroke-width="4.3"/>
<line x1="1481.0" y1="877.5" x2="1590.0" y2="870.0" stroke="#2AB5B5" stroke-width="4.3"/>
<line x1="1437.0" y1="890.0" x2="1494.0" y2="831.0" stroke="#2AB5B5" stroke-width="5"/>
<line x1="1437.0" y1="890.0" x2="1473.0" y2="842.8" stroke="#2AB5B5" stroke-width="5"/>
<line x1="1437.0" y1="890.0" x2="1510.0" y2="820.0" stroke="#2AB5B5" stroke-width="5"/>
<line x1="1437.0" y1="890.0" x2="1532.0" y2="810.6" stroke="#2AB5B5" stroke-width="5"/>
<polygon points="1475.0,876.0 1600.0,872.0 1653.0,873.0 1653.0,869.0 1600.0,864.0 1567.0,856.0 1538.0,855.0 1484.0,868.8" fill="#2AB5B5"/>
<polygon points="1484.0,868.8 1596.0,816.5 1686.0,771.5 1745.4,758.8 1745.4,764.0 1628.3,806.5 1538.0,853.0" fill="#2AB5B5"/>
<polygon points="1458.8,879.6 1520.0,823.7 1531.0,809.3 1545.0,800.0 1536.3,831.0 1531.0,838.0 1484.0,868.8" fill="#2AB5B5"/>
<polygon points="1502.7,848.6 1606.3,766.2 1603.3,762.2 1497.3,841.4" fill="#2AB5B5"/>
<polygon points="1445.0,890.0 1493.0,831.0 1500.0,836.0 1460.0,885.0" fill="#2AB5B5"/>
<polyline points="1377.0,922.5 1400.0,895.0 1425.0,870.0" fill="none" stroke="#2AB5B5" stroke-width="4.5" stroke-linejoin="round"/>
<path d="M928.2,710.8 A5.5,5.5 0 0 1 937.8,705.2" fill="none" stroke="#55248A" stroke-width="4"/>
<path d="M1076.0,868.4 A5.5,5.5 0 1 1 1076.0,857.6" fill="none" stroke="#55248A" stroke-width="4"/>
<path d="M1375.5,653.0 A6,6 0 0 1 1387.5,653.0" fill="none" stroke="#55248A" stroke-width="4"/>
<path d="M1731.9,746.4 A6,6 0 0 1 1736.1,757.6" fill="none" stroke="#55248A" stroke-width="4"/>
<path d="M1156.6,998.6 A5.3,5.3 0 1 1 1148.3,992.3" fill="none" stroke="#55248A" stroke-width="4"/>
<path d="M1125.7,1046.7 A5.3,5.3 0 0 1 1118.3,1039.3" fill="none" stroke="#55248A" stroke-width="4"/>
<path d="M1479.0,1046.6 A5.5,5.5 0 0 1 1479.0,1057.4" fill="none" stroke="#55248A" stroke-width="4"/>
<path d="M1258.7,1147.9 A5.3,5.3 0 0 1 1248.3,1146.1" fill="none" stroke="#55248A" stroke-width="4"/>
<polyline points="1423,800.3 1477,737 1427,831" fill="none" stroke="#55248A" stroke-width="3.5"/>
<polyline points="1465,742 1477,737 1478,751" fill="none" stroke="#55248A" stroke-width="3"/>
<text x="889.2" y="693.7" font-family="Liberation Sans, sans-serif" font-size="29">Brown</text>
<text x="1317.5" y="639.4" font-family="Liberation Sans, sans-serif" font-size="29">Brown</text>
<text x="1453.2" y="724.0" font-family="Liberation Sans, sans-serif" font-size="29">Brown</text>
<text x="1701.9" y="736.0" font-family="Liberation Sans, sans-serif" font-size="29">Brown</text>
<text x="1052.0" y="1010.0" font-family="Liberation Sans, sans-serif" font-size="29">Brown</text>
<text x="1011.9" y="1048.7" font-family="Liberation Sans, sans-serif" font-size="29">Brown</text>
<text x="1483.2" y="1081.0" font-family="Liberation Sans, sans-serif" font-size="29">Brown</text>
<text x="1163.2" y="1178.8" font-family="Liberation Sans, sans-serif" font-size="29">Brown</text>
<rect x="1621.3" y="1081.5" width="52.4" height="4.4" fill="#F0786F"/>
<text x="1683.5" y="1091.2" font-family="Liberation Sans, sans-serif" font-size="25">G1</text>
<rect x="1621.3" y="1107.3" width="52.4" height="4.4" fill="#FFC181"/>
<text x="1683.5" y="1117.0" font-family="Liberation Sans, sans-serif" font-size="25">G2</text>
<rect x="1621.3" y="1133.1" width="52.4" height="4.4" fill="#2AB5B5"/>
<text x="1683.5" y="1142.8" font-family="Liberation Sans, sans-serif" font-size="25">G3</text>
</svg>
</body></html>
